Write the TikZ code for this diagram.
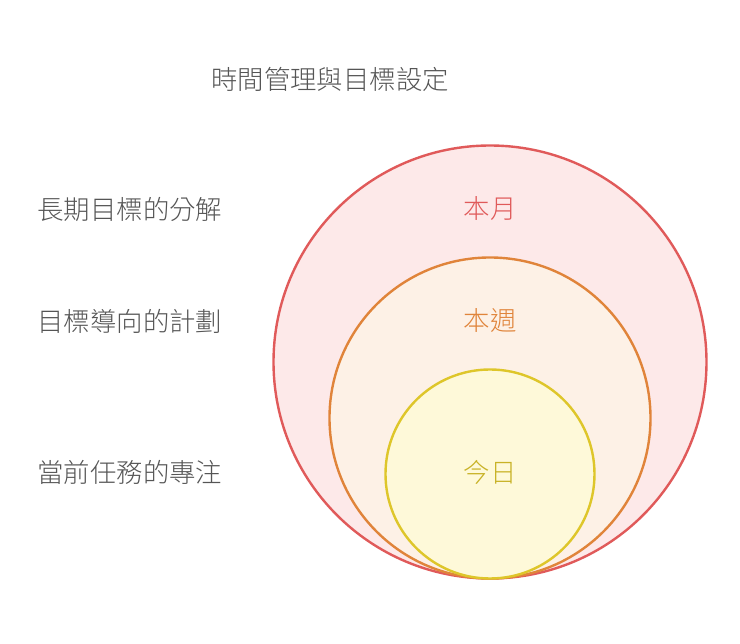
\documentclass[tikz,border=0pt]{standalone}
\usepackage{fontspec}
\newfontfamily\cjk{Noto Sans CJK TC}[UprightFont=* Light]
\usepackage{xcolor}
\usetikzlibrary{positioning}

\definecolor{monthline}{HTML}{E05A5A}
\definecolor{monthfill}{HTML}{FDE9E9}
\definecolor{weekline}{HTML}{E0843A}
\definecolor{weekfill}{HTML}{FDF1E6}
\definecolor{dayline}{HTML}{DEC62A}
\definecolor{dayfill}{HTML}{FEF9D9}
\definecolor{textgray}{HTML}{555555}

\begin{document}
\begin{tikzpicture}[
    x=1pt, y=-1pt,
    every node/.style = {font=\cjk\fontsize{26.4}{30}\selectfont, text=textgray},
    ring/.style = {circle, draw, line width=2.4pt, inner sep=0pt}
  ]
  \useasboundingbox (0,0) rectangle (740,644);

  % 三個圓
  \node[ring, draw=monthline, fill=monthfill, minimum size=433pt] (month) at (490,362) {};
  \node[ring, draw=weekline, fill=weekfill, minimum size=321pt] (week) at (490,418) {};
  \node[ring, draw=dayline, fill=dayfill, minimum size=209pt] (day) at (490,474) {};

  % 圓內標籤
  \node[text=monthline] (monthlabel) at (490,209) {本月};
  \node[text=weekline] (weeklabel) at (490,321) {本週};
  \node[text=dayline!90!black] (daylabel) at (490,472) {今日};

  % 標題與左側說明
  \node (title) at (330,79) {時間管理與目標設定};
  \node[anchor=west] (longterm) at (34,209) {長期目標的分解};
  \node[anchor=west] (goalplan) at (34,321) {目標導向的計劃};
  \node[anchor=west] (focus) at (34,472) {當前任務的專注};
\end{tikzpicture}
\end{document}
